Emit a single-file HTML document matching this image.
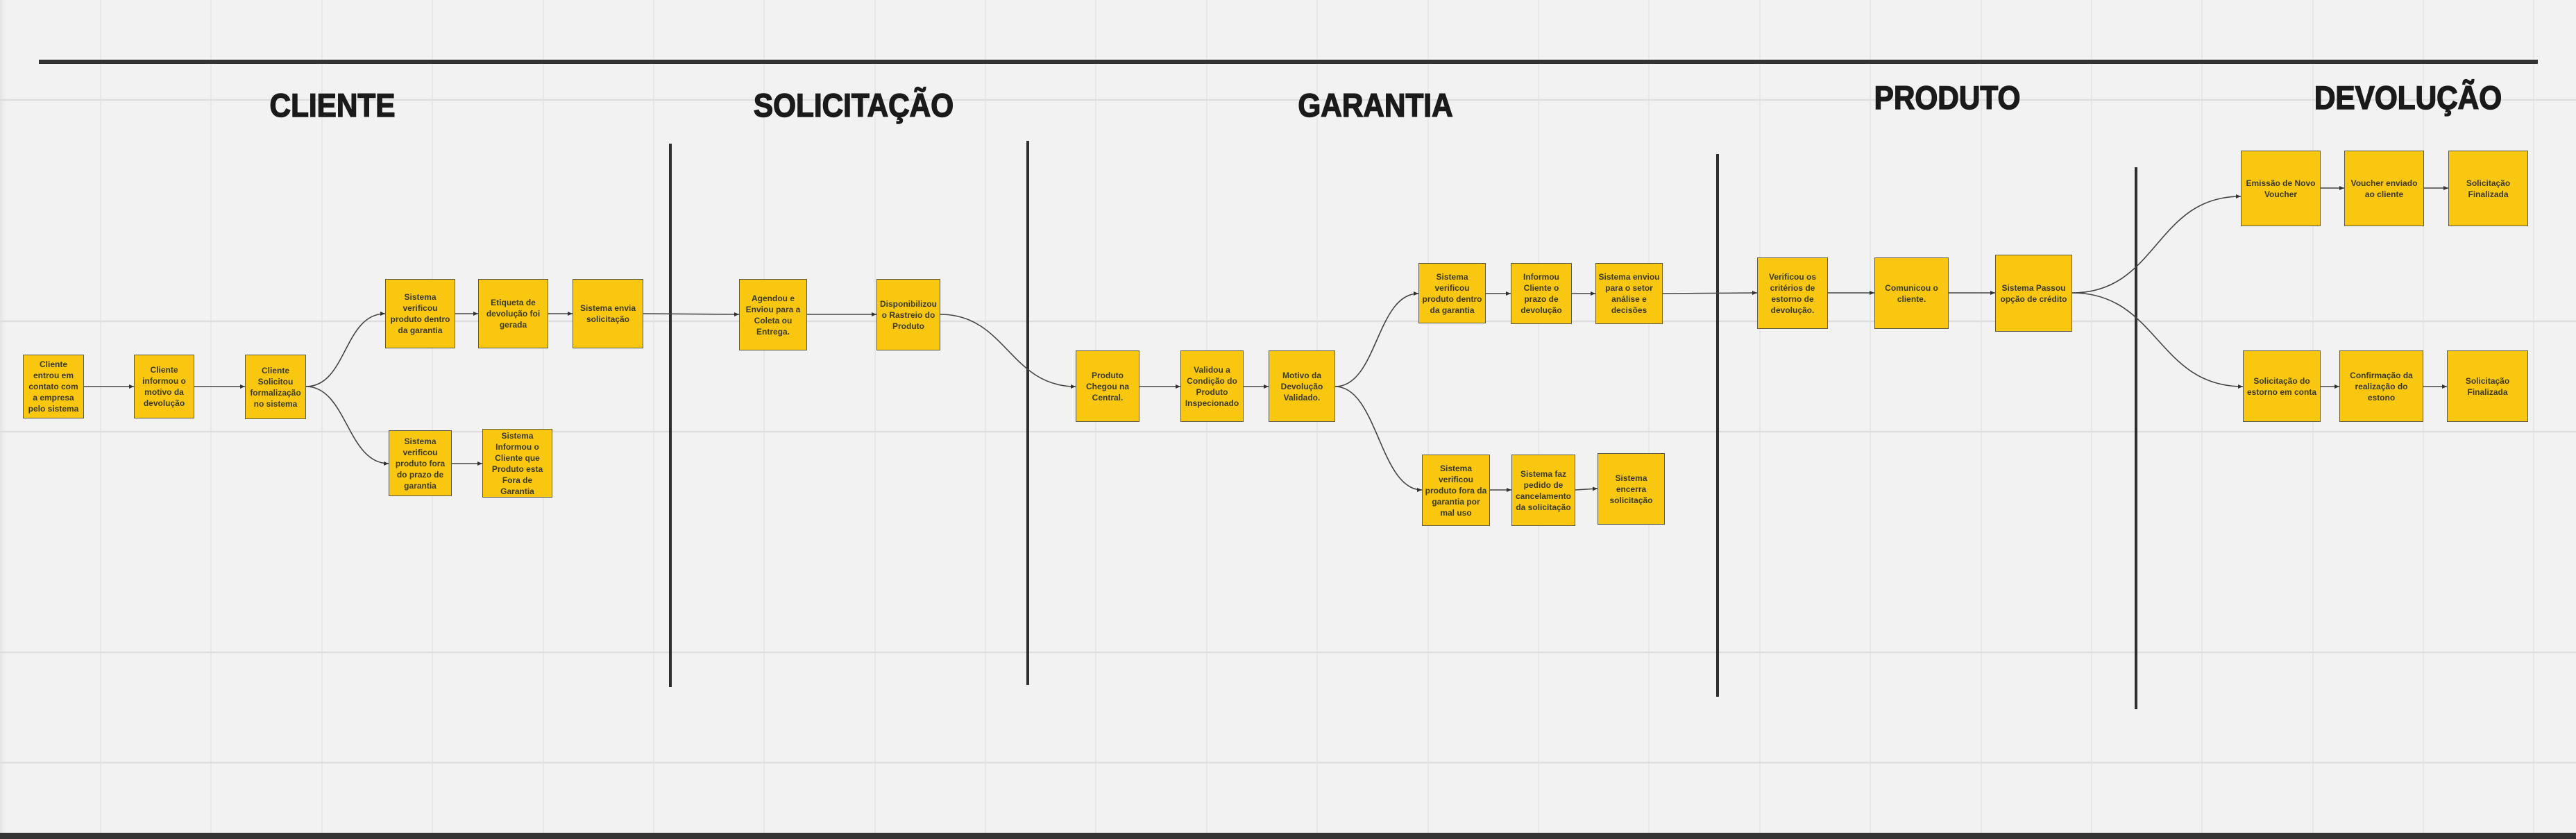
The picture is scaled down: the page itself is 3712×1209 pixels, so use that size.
<!DOCTYPE html>
<html><head><meta charset="utf-8">
<style>
html,body{margin:0;padding:0}
body{width:3712px;height:1209px;position:relative;overflow:hidden;background:#f2f2f2;font-family:"Liberation Sans",sans-serif}
svg{position:absolute;left:0;top:0}
.b{position:absolute;background:#fac710;border:1.5px solid #5a5a4a;box-sizing:border-box;display:flex;align-items:center;justify-content:center;text-align:center;font-weight:bold;font-size:12px;line-height:16px;color:#3a3a2a;padding:0 3px}
.t{position:absolute;font-weight:bold;font-size:47px;line-height:47px;color:#1a1a1a;white-space:nowrap;transform:translateX(-50%) scaleX(0.9);-webkit-text-stroke:1.5px #1a1a1a}
</style></head><body>
<svg width="3712" height="1209" xmlns="http://www.w3.org/2000/svg">
<defs>
<marker id="a" markerWidth="8" markerHeight="8" refX="7" refY="4" orient="auto" markerUnits="userSpaceOnUse"><path d="M0,1 L7,4 L0,7 z" fill="#333"/></marker>
<linearGradient id="sh" x1="0" x2="1"><stop offset="0" stop-color="#e4e4e4"/><stop offset="1" stop-color="#f2f2f2" stop-opacity="0"/></linearGradient>
</defs>
<rect x="0" y="0" width="12" height="1209" fill="url(#sh)"/>
<g stroke="#e2e2e2" stroke-width="1.2">
<line x1="145" y1="0" x2="145" y2="1209"/><line x1="304" y1="0" x2="304" y2="1209"/><line x1="464" y1="0" x2="464" y2="1209"/><line x1="623" y1="0" x2="623" y2="1209"/><line x1="783" y1="0" x2="783" y2="1209"/><line x1="942" y1="0" x2="942" y2="1209"/><line x1="1101" y1="0" x2="1101" y2="1209"/><line x1="1261" y1="0" x2="1261" y2="1209"/><line x1="1420" y1="0" x2="1420" y2="1209"/><line x1="1579" y1="0" x2="1579" y2="1209"/><line x1="1739" y1="0" x2="1739" y2="1209"/><line x1="1898" y1="0" x2="1898" y2="1209"/><line x1="2058" y1="0" x2="2058" y2="1209"/><line x1="2217" y1="0" x2="2217" y2="1209"/><line x1="2376" y1="0" x2="2376" y2="1209"/><line x1="2536" y1="0" x2="2536" y2="1209"/><line x1="2695" y1="0" x2="2695" y2="1209"/><line x1="2855" y1="0" x2="2855" y2="1209"/><line x1="3014" y1="0" x2="3014" y2="1209"/><line x1="3173" y1="0" x2="3173" y2="1209"/><line x1="3333" y1="0" x2="3333" y2="1209"/><line x1="3492" y1="0" x2="3492" y2="1209"/><line x1="3651" y1="0" x2="3651" y2="1209"/>
</g>
<g stroke="#dedede" stroke-width="2.5">
<line x1="0" y1="144" x2="3712" y2="144"/><line x1="0" y1="463" x2="3712" y2="463"/><line x1="0" y1="622" x2="3712" y2="622"/><line x1="0" y1="940" x2="3712" y2="940"/><line x1="0" y1="1099" x2="3712" y2="1099"/>
</g>
<rect x="56" y="86" width="3601" height="6" fill="#333"/>
<rect x="0" y="1200" width="3712" height="9" fill="#333"/>
<g stroke="#2e2e2e" stroke-width="4">
<line x1="966" y1="207" x2="966" y2="990"/>
<line x1="1481" y1="203" x2="1481" y2="987"/>
<line x1="2475" y1="222" x2="2475" y2="1004"/>
<line x1="3078" y1="241" x2="3078" y2="1022"/>
</g>
<g stroke="#444" stroke-width="1.6" fill="none" marker-end="url(#a)">
<path d="M121,557 L193,557"/>
<path d="M280,557 L353,557"/>
<path d="M441,557 C500,557 495,452 555,452"/>
<path d="M441,557 C500,557 500,668 560,668"/>
<path d="M656,452 L689,452"/>
<path d="M790,452 L825,452"/>
<path d="M927,452 L1065,453"/>
<path d="M651,668 L695,668"/>
<path d="M1163,453 L1263,453"/>
<path d="M1355,453 C1450,453 1455,557 1550,557"/>
<path d="M1642,557 L1701,557"/>
<path d="M1792,557 L1828,557"/>
<path d="M1924,557 C1985,557 1983,423 2044,423"/>
<path d="M1924,557 C1985,557 1988,706 2049,706"/>
<path d="M2141,423 L2177,423"/>
<path d="M2265,423 L2299,423"/>
<path d="M2396,423 L2532,422"/>
<path d="M2634,422 L2701,422"/>
<path d="M2808,422 L2875,422"/>
<path d="M2147,706 L2178,706"/>
<path d="M2270,706 L2302,704"/>
<path d="M2986,422 C3110,422 3105,283 3229,283"/>
<path d="M2986,422 C3110,422 3108,557 3232,557"/>
<path d="M3344,271 L3378,271"/>
<path d="M3493,271 L3528,271"/>
<path d="M3344,557 L3371,557"/>
<path d="M3492,557 L3526,557"/>
</g>
</svg>
<div class="t" style="left:479px;top:128px">CLIENTE</div>
<div class="t" style="left:1230px;top:128px">SOLICITAÇÃO</div>
<div class="t" style="left:1982px;top:128px">GARANTIA</div>
<div class="t" style="left:2806px;top:117px">PRODUTO</div>
<div class="t" style="left:3470px;top:117px">DEVOLUÇÃO</div>

<div class="b" style="left:33px;top:511px;width:88px;height:92px">Cliente entrou em contato com a empresa pelo sistema</div>
<div class="b" style="left:193px;top:511px;width:87px;height:92px">Cliente informou o motivo da devolução</div>
<div class="b" style="left:353px;top:511px;width:88px;height:93px">Cliente Solicitou formalização no sistema</div>
<div class="b" style="left:555px;top:402px;width:101px;height:100px">Sistema verificou produto dentro da garantia</div>
<div class="b" style="left:689px;top:402px;width:101px;height:100px">Etiqueta de devolução foi gerada</div>
<div class="b" style="left:825px;top:402px;width:102px;height:100px">Sistema envia solicitação</div>
<div class="b" style="left:560px;top:620px;width:91px;height:95px">Sistema verificou produto fora do prazo de garantia</div>
<div class="b" style="left:695px;top:618px;width:101px;height:99px">Sistema Informou o Cliente que Produto esta Fora de Garantia</div>
<div class="b" style="left:1065px;top:402px;width:98px;height:103px">Agendou e Enviou para a Coleta ou Entrega.</div>
<div class="b" style="left:1263px;top:402px;width:92px;height:103px">Disponibilizou o Rastreio do Produto</div>
<div class="b" style="left:1550px;top:505px;width:92px;height:103px">Produto Chegou na Central.</div>
<div class="b" style="left:1701px;top:505px;width:91px;height:103px">Validou a Condição do Produto Inspecionado</div>
<div class="b" style="left:1828px;top:505px;width:96px;height:103px">Motivo da Devolução Validado.</div>
<div class="b" style="left:2044px;top:379px;width:97px;height:87px">Sistema verificou produto dentro da garantia</div>
<div class="b" style="left:2177px;top:379px;width:88px;height:88px">Informou Cliente o prazo de devolução</div>
<div class="b" style="left:2299px;top:379px;width:97px;height:88px">Sistema enviou para o setor análise e decisões</div>
<div class="b" style="left:2532px;top:371px;width:102px;height:103px">Verificou os critérios de estorno de devolução.</div>
<div class="b" style="left:2701px;top:371px;width:107px;height:103px">Comunicou o cliente.</div>
<div class="b" style="left:2049px;top:655px;width:98px;height:103px">Sistema verificou produto fora da garantia por mal uso</div>
<div class="b" style="left:2178px;top:655px;width:92px;height:103px">Sistema faz pedido de cancelamento da solicitação</div>
<div class="b" style="left:2302px;top:653px;width:97px;height:103px">Sistema encerra solicitação</div>
<div class="b" style="left:2875px;top:367px;width:111px;height:111px">Sistema Passou opção de crédito</div>
<div class="b" style="left:3229px;top:217px;width:115px;height:109px">Emissão de Novo Voucher</div>
<div class="b" style="left:3378px;top:217px;width:115px;height:109px">Voucher enviado ao cliente</div>
<div class="b" style="left:3528px;top:217px;width:115px;height:109px">Solicitação Finalizada</div>
<div class="b" style="left:3232px;top:505px;width:112px;height:103px">Solicitação do estorno em conta</div>
<div class="b" style="left:3371px;top:505px;width:121px;height:103px">Confirmação da realização do estono</div>
<div class="b" style="left:3526px;top:505px;width:117px;height:103px">Solicitação Finalizada</div>
</body></html>
